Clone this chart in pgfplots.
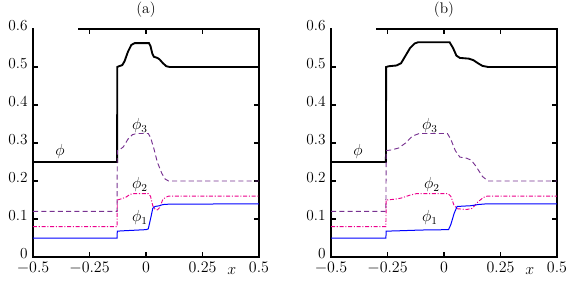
\documentclass[border=0pt]{standalone}
\usepackage{pgfplots}
\pgfplotsset{compat=1.18}
\definecolor{phithree}{RGB}{120,50,145}
\newcommand{\bigf}{\fontsize{11.5}{13}\selectfont}
\tikzset{lab/.style={font=\bigf}}
\pgfplotsset{
  panel/.style={
    scale only axis, width=169.5pt, height=171pt,
    xmin=-0.5, xmax=0.5, ymin=0, ymax=0.6,
    xtick={-0.5,-0.25,0,0.25,0.5},
    xticklabels={$-0.5$,$-0.25$,$0$,$0.25$,$0.5$},
    ytick={0,0.1,0.2,0.3,0.4,0.5,0.6},
    yticklabels={0,0.1,0.2,0.3,0.4,0.5,0.6},
    major tick length=4pt,
    tick style={line width=0.8pt, black},
    axis line style={line width=0.9pt},
    tick label style={font=\bigf},
    yticklabel style={xshift=-0.5pt, yshift=2.5pt, inner ysep=0.5pt},
    xticklabel style={yshift=-3.5pt, inner ysep=0.5pt},
    title style={font=\bigf, yshift=-1pt},
    clip=false,
  },
  phistyle/.style={black, line width=1.4pt},
  p1style/.style={blue, line width=0.75pt},
  p2style/.style={magenta, line width=0.7pt, dash pattern=on 3pt off 1.3pt on 0.8pt off 1.3pt},
  p3style/.style={phithree, line width=0.7pt, dash pattern=on 3.8pt off 2.4pt},
}
\begin{document}
\begin{tikzpicture}
\useasboundingbox (-24.75pt,-22.5pt) rectangle (408.75pt,192.75pt);
\begin{axis}[panel, title={(a)}]
\addplot[phistyle] coordinates {(-0.5,0.25)(-0.128,0.25)(-0.127,0.5)(-0.12,0.502)(-0.105,0.505)(-0.095,0.515)(-0.08,0.54)(-0.065,0.558)(-0.05,0.563)(0.013,0.563)(0.02,0.555)(0.028,0.535)(0.035,0.527)(0.05,0.524)(0.06,0.52)(0.075,0.51)(0.09,0.502)(0.105,0.5)(0.5,0.5)};
\addplot[p3style] coordinates {(-0.5,0.12)(-0.128,0.12)(-0.127,0.28)(-0.115,0.283)(-0.1,0.29)(-0.08,0.31)(-0.06,0.322)(-0.04,0.325)(0.01,0.325)(0.02,0.315)(0.035,0.285)(0.05,0.25)(0.07,0.22)(0.085,0.205)(0.1,0.2)(0.5,0.2)};
\addplot[p2style] coordinates {(-0.5,0.08)(-0.128,0.08)(-0.127,0.15)(-0.115,0.152)(-0.09,0.157)(-0.07,0.165)(-0.05,0.167)(0.01,0.167)(0.02,0.16)(0.03,0.135)(0.04,0.126)(0.05,0.124)(0.06,0.13)(0.075,0.152)(0.09,0.158)(0.1,0.16)(0.5,0.16)};
\addplot[p1style] coordinates {(-0.5,0.05)(-0.128,0.05)(-0.127,0.068)(-0.1,0.069)(0.0,0.072)(0.01,0.074)(0.02,0.1)(0.03,0.128)(0.04,0.133)(0.06,0.135)(0.075,0.138)(0.1,0.139)(0.5,0.14)};
\draw[white, line width=1.2pt] ([xshift=0.6pt]rel axis cs:0,1) -- (rel axis cs:0.2,1);
\node[lab] at (axis cs:-0.38,0.278) {$\phi$};
\node[lab] at (axis cs:-0.027,0.345) {$\phi_3$};
\node[lab] at (axis cs:-0.027,0.19) {$\phi_2$};
\node[lab] at (axis cs:-0.027,0.103) {$\phi_1$};
\node[lab, anchor=north] at (axis cs:0.38,-0.015) {$x$};
\end{axis}
\begin{axis}[panel, title={(b)}, at={(223.5pt,0)}]
\addplot[phistyle] coordinates {(-0.5,0.25)(-0.257,0.25)(-0.256,0.5)(-0.245,0.502)(-0.21,0.504)(-0.19,0.51)(-0.17,0.53)(-0.15,0.55)(-0.13,0.562)(-0.115,0.565)(0.025,0.565)(0.04,0.55)(0.055,0.53)(0.07,0.524)(0.11,0.522)(0.13,0.518)(0.15,0.51)(0.17,0.503)(0.195,0.5)(0.5,0.5)};
\addplot[p3style] coordinates {(-0.5,0.12)(-0.257,0.12)(-0.256,0.28)(-0.23,0.282)(-0.2,0.287)(-0.17,0.3)(-0.14,0.318)(-0.11,0.325)(0.015,0.325)(0.03,0.31)(0.05,0.28)(0.07,0.263)(0.1,0.26)(0.12,0.255)(0.14,0.24)(0.17,0.212)(0.195,0.2)(0.5,0.2)};
\addplot[p2style] coordinates {(-0.5,0.08)(-0.257,0.08)(-0.256,0.15)(-0.22,0.152)(-0.19,0.155)(-0.15,0.163)(-0.12,0.167)(0.018,0.167)(0.03,0.16)(0.045,0.135)(0.06,0.127)(0.1,0.125)(0.125,0.128)(0.15,0.145)(0.175,0.157)(0.19,0.16)(0.5,0.16)};
\addplot[p1style] coordinates {(-0.5,0.05)(-0.257,0.05)(-0.256,0.068)(-0.2,0.069)(-0.1,0.071)(0.02,0.072)(0.03,0.085)(0.045,0.115)(0.058,0.133)(0.12,0.135)(0.15,0.138)(0.19,0.14)(0.5,0.14)};
\draw[white, line width=1.2pt] ([xshift=0.6pt]rel axis cs:0,1) -- (rel axis cs:0.2,1);
\node[lab] at (axis cs:-0.38,0.278) {$\phi$};
\node[lab] at (axis cs:-0.062,0.345) {$\phi_3$};
\node[lab] at (axis cs:-0.053,0.19) {$\phi_2$};
\node[lab] at (axis cs:-0.062,0.103) {$\phi_1$};
\node[lab, anchor=north] at (axis cs:0.38,-0.015) {$x$};
\end{axis}
\end{tikzpicture}
\end{document}
